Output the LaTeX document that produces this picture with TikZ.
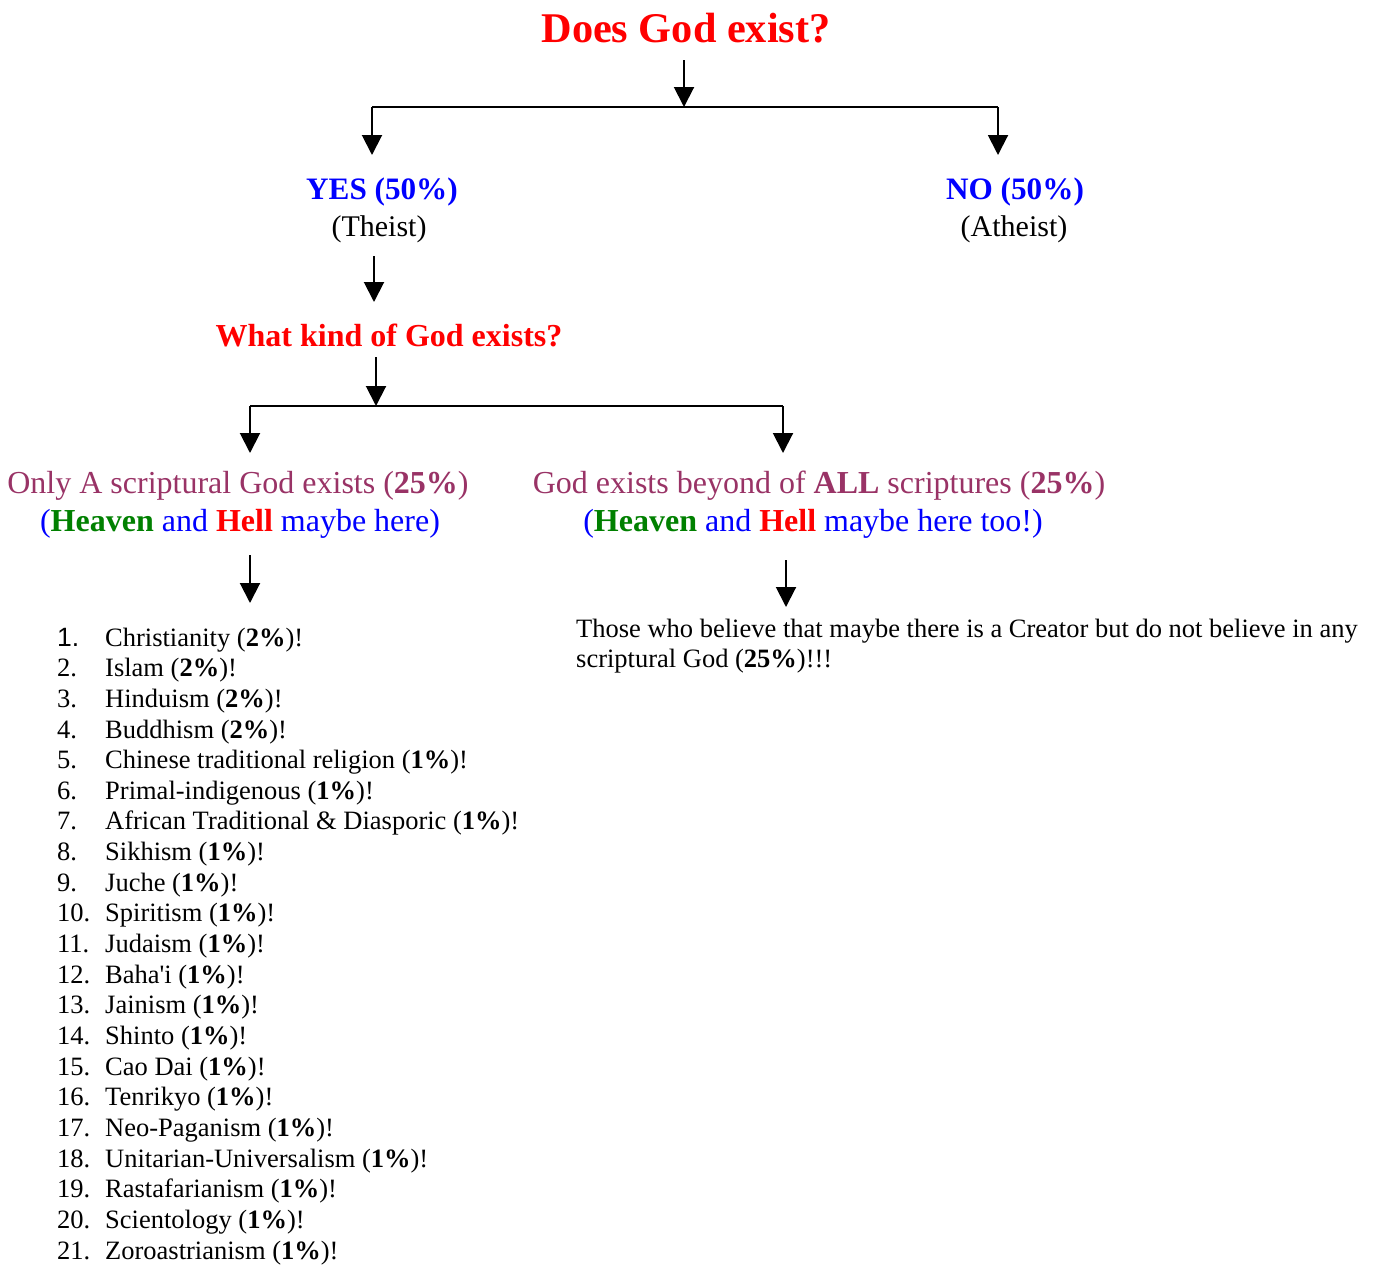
\documentclass[tikz,border=0pt]{standalone}
\usepackage{fontspec}
\setmainfont{Liberation Serif}
\setsansfont{Liberation Sans}
\usetikzlibrary{arrows.meta}
\definecolor{plum}{RGB}{153,51,102}
\definecolor{hgreen}{RGB}{0,128,0}
\begin{document}
\begin{tikzpicture}[x=1pt,y=-1pt,
  arr/.style={-{Triangle[length=20pt,width=20pt]}, line width=2pt},
  bar/.style={line width=2pt},
  lvl/.style={anchor=base, inner sep=0, font=\fontsize{30}{36}\selectfont},
  choice/.style={anchor=base, inner sep=0, font=\fontsize{32}{38}\selectfont},
  item/.style={anchor=base west, inner sep=0, font=\fontsize{26.5}{31}\selectfont}]
\useasboundingbox (0,0) rectangle (1383,1264);
% question 1
\node[anchor=base, inner sep=0, red, font=\fontsize{42.3}{50}\selectfont\bfseries] (q1) at (686,42){Does God exist?};
\coordinate (q1out) at (684,60);
\coordinate (q1mid) at (684,107);
\coordinate (q1l) at (372,107);
\coordinate (q1r) at (998,107);
\coordinate (yesin) at (372,155);
\coordinate (noin) at (998,155);
\draw[arr](q1out) -- (q1mid);
\draw[bar](q1l) -- (q1r);
\draw[arr](q1l) -- (yesin);
\draw[arr](q1r) -- (noin);
\node[lvl, blue, font=\fontsize{31.2}{37}\selectfont] (yes) at (382,199){\textbf{YES (50\%)}};
\node[lvl] (theist) at (379,236){(Theist)};
\node[lvl, blue, font=\fontsize{31.2}{37}\selectfont] (no) at (1015,199){\textbf{NO (50\%)}};
\node[lvl] (atheist) at (1014,236){(Atheist)};
% question 2
\coordinate (yesout) at (374,256);
\coordinate (q2in) at (374,302);
\draw[arr](yesout) -- (q2in);
\node[anchor=base, inner sep=0, red, font=\fontsize{32}{38}\selectfont\bfseries] (q2) at (389,346){What kind of God exists?};
\coordinate (q2out) at (376,357);
\coordinate (q2mid) at (376,406);
\coordinate (q2l) at (250,406);
\coordinate (q2r) at (783,406);
\coordinate (scrin) at (250,453);
\coordinate (bynin) at (783,453);
\draw[arr](q2out) -- (q2mid);
\draw[bar](q2l) -- (q2r);
\draw[arr](q2l) -- (scrin);
\draw[arr](q2r) -- (bynin);
\node[choice, plum] (scr) at (238,493){Only A scriptural God exists (\textbf{25\%})};
\node[choice, blue] (scrhh) at (240,531){(\textcolor{hgreen}{\textbf{Heaven}} and \textcolor{red}{\textbf{Hell}} maybe here)};
\node[choice, plum] (byn) at (819,493){God exists beyond of \textbf{ALL} scriptures (\textbf{25\%})};
\node[choice, blue] (bynhh) at (813,531){(\textcolor{hgreen}{\textbf{Heaven}} and \textcolor{red}{\textbf{Hell}} maybe here too!)};
\coordinate (scrout) at (250,555);
\coordinate (listin) at (250,603);
\coordinate (bynout) at (786,560);
\coordinate (parin) at (786,607);
\draw[arr](scrout) -- (listin);
\draw[arr](bynout) -- (parin);
% beyond all scriptures
\node[item] (par1) at (576,637){Those who believe that maybe there is a Creator but do not believe in any};
\node[item] (par2) at (576,667){scriptural God (\textbf{25\%})!!!};
% scriptural religions
\node[item] (r1) at (57,646.0){\makebox[48pt][l]{\textsf{1.}}Christianity (\textbf{2\%})!};
\node[item] (r2) at (57,676.7){\makebox[48pt][l]{2.}Islam (\textbf{2\%})!};
\node[item] (r3) at (57,707.3){\makebox[48pt][l]{3.}Hinduism (\textbf{2\%})!};
\node[item] (r4) at (57,738.0){\makebox[48pt][l]{4.}Buddhism (\textbf{2\%})!};
\node[item] (r5) at (57,768.6){\makebox[48pt][l]{5.}Chinese traditional religion (\textbf{1\%})!};
\node[item] (r6) at (57,799.3){\makebox[48pt][l]{6.}Primal-indigenous (\textbf{1\%})!};
\node[item] (r7) at (57,829.9){\makebox[48pt][l]{7.}African Traditional \& Diasporic (\textbf{1\%})!};
\node[item] (r8) at (57,860.6){\makebox[48pt][l]{8.}Sikhism (\textbf{1\%})!};
\node[item] (r9) at (57,891.2){\makebox[48pt][l]{9.}Juche (\textbf{1\%})!};
\node[item] (r10) at (57,921.9){\makebox[48pt][l]{10.}Spiritism (\textbf{1\%})!};
\node[item] (r11) at (57,952.5){\makebox[48pt][l]{11.}Judaism (\textbf{1\%})!};
\node[item] (r12) at (57,983.2){\makebox[48pt][l]{12.}Baha\textquotesingle i (\textbf{1\%})!};
\node[item] (r13) at (57,1013.8){\makebox[48pt][l]{13.}Jainism (\textbf{1\%})!};
\node[item] (r14) at (57,1044.5){\makebox[48pt][l]{14.}Shinto (\textbf{1\%})!};
\node[item] (r15) at (57,1075.1){\makebox[48pt][l]{15.}Cao Dai (\textbf{1\%})!};
\node[item] (r16) at (57,1105.8){\makebox[48pt][l]{16.}Tenrikyo (\textbf{1\%})!};
\node[item] (r17) at (57,1136.4){\makebox[48pt][l]{17.}Neo-Paganism (\textbf{1\%})!};
\node[item] (r18) at (57,1167.1){\makebox[48pt][l]{18.}Unitarian-Universalism (\textbf{1\%})!};
\node[item] (r19) at (57,1197.7){\makebox[48pt][l]{19.}Rastafarianism (\textbf{1\%})!};
\node[item] (r20) at (57,1228.4){\makebox[48pt][l]{20.}Scientology (\textbf{1\%})!};
\node[item] (r21) at (57,1259.0){\makebox[48pt][l]{21.}Zoroastrianism (\textbf{1\%})!};
\end{tikzpicture}
\end{document}
